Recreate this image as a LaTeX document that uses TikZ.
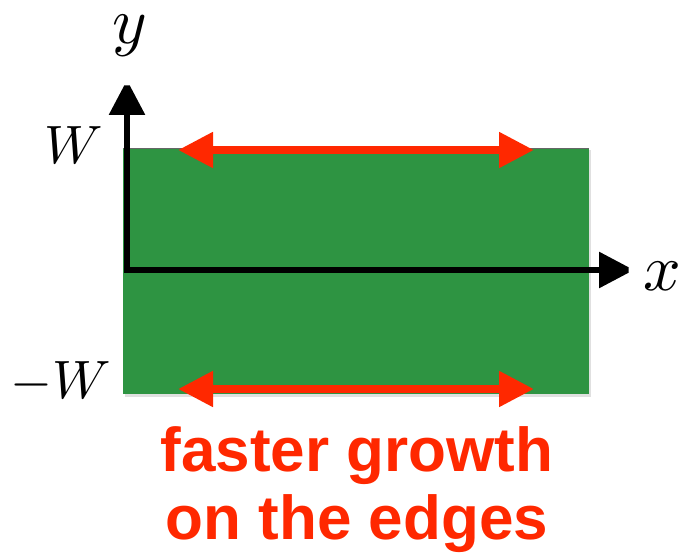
\documentclass[tikz,border=0pt]{standalone}
\usepackage{graphicx}
\usepackage{fontspec}
\newfontfamily\labelfont{Liberation Sans}[BoldFont={Liberation Sans Bold}]
\usetikzlibrary{arrows.meta}
\definecolor{plate}{RGB}{46,148,66}
\definecolor{growred}{RGB}{255,40,0}
\newcommand{\wsize}[1]{\scalebox{5.4}{$#1$}}
\newcommand{\axsize}[1]{\scalebox{6.6}{$#1$}}
\tikzset{
  growarrow/.style={draw=growred, line width=8pt, {Triangle[length=35pt,width=34pt]}-{Triangle[length=35pt,width=34pt]}},
  mathlbl/.style={inner sep=0pt},
  redtext/.style={inner sep=0pt, text=growred, font=\labelfont\bfseries\fontsize{62}{68}\selectfont}
}
\begin{document}
\begin{tikzpicture}[x=1pt,y=-1pt]
\useasboundingbox (0,0) rectangle (682,556);
% plate with soft shadow
\fill[black!12] (125,150) rectangle (591,397);
\fill[plate] (123,148) rectangle (589,394);
\draw[black!60, line width=0.8pt] (123,148.4) -- (589,148.4);
% axes
\coordinate (ytip) at (127,80);
\coordinate (orig) at (127,270);
\coordinate (xtip) at (634,270);
\draw[line width=6pt, miter limit=2, {Triangle[length=35pt,width=35pt]}-{Triangle[length=35pt,width=35pt]}] (ytip) -- (orig) -- (xtip);
% growth arrows
\coordinate (tl) at (178,150);
\coordinate (tr) at (534,150);
\coordinate (bl) at (178,389);
\coordinate (br) at (534,389);
\draw[growarrow] (tl) -- (tr);
\draw[growarrow] (bl) -- (br);
% labels
\node[mathlbl, anchor=base] (ylab) at (130,44) {\axsize{y}};
\node[mathlbl, anchor=base west] (xlab) at (643,290) {\axsize{x}};
\node[mathlbl, anchor=base east] (wtop) at (103,164) {\wsize{W}};
\node[mathlbl, anchor=base east] (wbot) at (111,398) {\wsize{-W}};
\node[redtext, anchor=base] (t1) at (357,471) {faster growth};
\node[redtext, anchor=base] (t2) at (357,539) {on the edges};
\end{tikzpicture}
\end{document}
